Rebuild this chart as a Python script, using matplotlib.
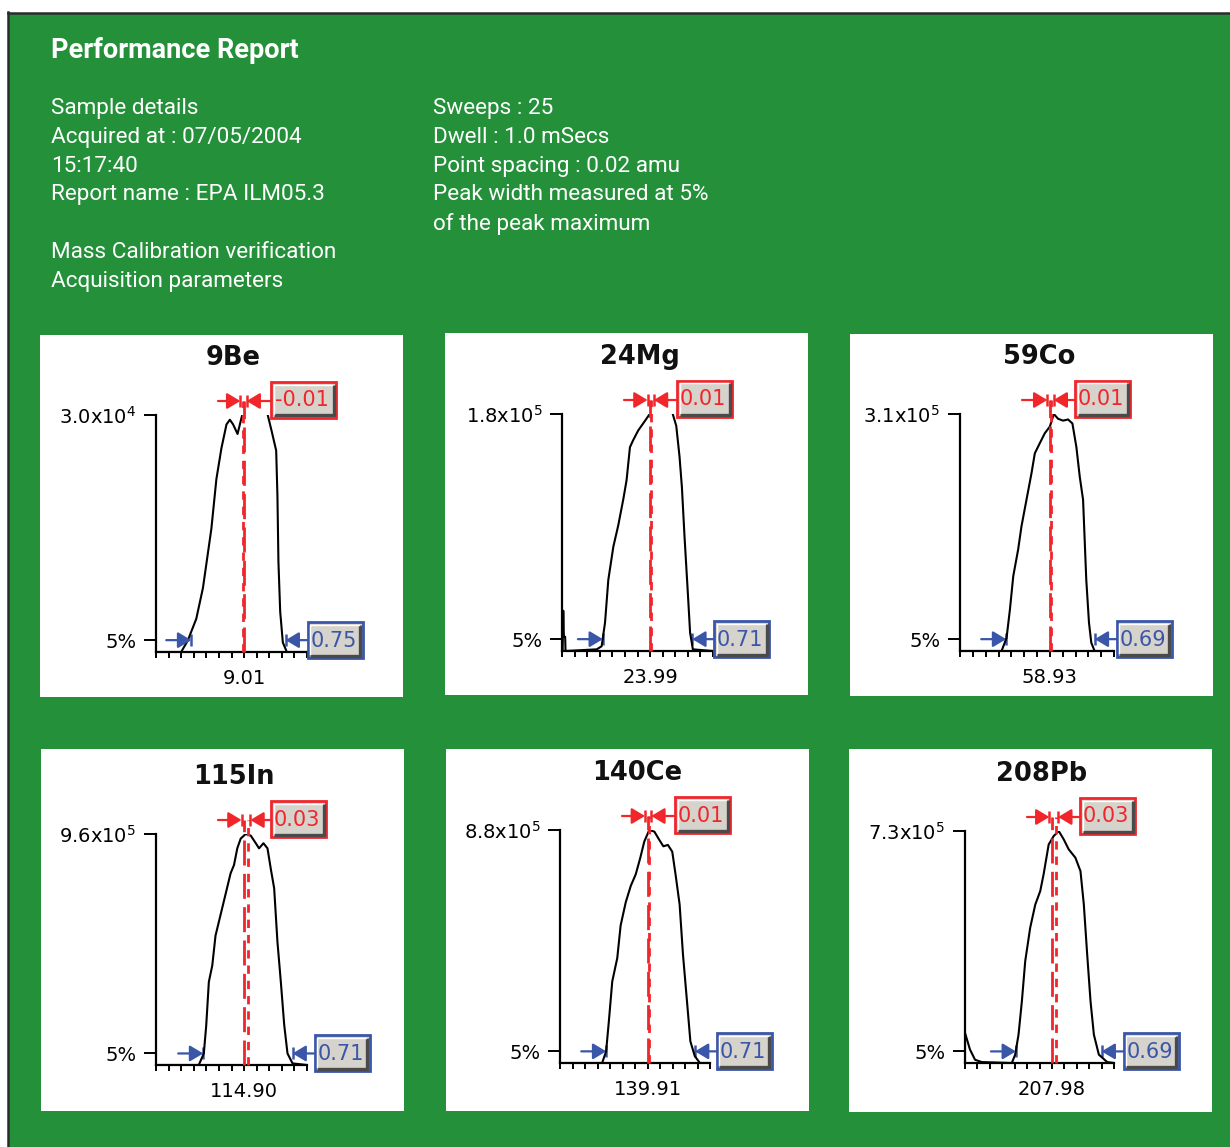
import numpy as np
import matplotlib
matplotlib.use("Agg")
import matplotlib.pyplot as plt
from matplotlib.patches import Rectangle
from matplotlib.lines import Line2D

# ---------------------------------------------------------------- data
ISOTOPES = ["9Be", "24Mg", "59Co", "115In", "140Ce", "208Pb"]
NOMINAL_MASS = [9.01, 23.99, 58.93, 114.90, 139.91, 207.98]
Y_MAX = [3.0e4, 1.8e5, 3.1e5, 9.6e5, 8.8e5, 7.3e5]
Y_MAX_MANTISSA = ["3.0", "1.8", "3.1", "9.6", "8.8", "7.3"]
Y_MAX_EXPONENT = [4, 5, 5, 5, 5, 5]
MASS_OFFSET = [-0.01, 0.01, 0.01, 0.03, 0.01, 0.03]
PEAK_WIDTH = [0.75, 0.71, 0.69, 0.71, 0.71, 0.69]
# left 5% crossing, amu relative to nominal mass
LEFT_EDGE = [-0.42, -0.375, -0.34, -0.325, -0.33, -0.29]

# scan profiles: mass relative to nominal (amu) and intensity in % of axis maximum
be_off = [-0.70, -0.50, -0.447, -0.38, -0.327, -0.26, -0.22, -0.18, -0.14, -0.113, -0.087,
          -0.052, -0.015, 0.03, 0.09, 0.15, 0.188, 0.22, 0.255, 0.265, 0.273, 0.287,
          0.308, 0.34, 0.50]
be_pct = [0, 0, 4.9, 14, 27, 52, 73, 86, 96, 98, 96,
          92, 100, 105, 107, 106, 100, 93, 85, 66, 38, 17,
          4, 0, 0]

mg_off = [-0.70, -0.695, -0.69, -0.685, -0.675, -0.672, -0.424, -0.385, -0.358, -0.332,
          -0.292, -0.253, -0.213, -0.187, -0.16, -0.134, -0.095, -0.042, -0.003, 0.05,
          0.12, 0.18, 0.208, 0.234, 0.253, 0.274, 0.30, 0.318, 0.34, 0.50]
mg_pct = [0, 0, 17, 6, 6, 0, 0.7, 2, 12, 30,
          44, 53, 64, 72, 86, 89, 93, 97, 100, 105,
          106, 100, 95, 82, 69, 48, 24.5, 7.7, 0.7, 0]

co_off = [-0.70, -0.376, -0.337, -0.311, -0.285, -0.247, -0.221, -0.182, -0.143, -0.117,
          -0.078, -0.039, 0.0, 0.031, 0.064, 0.103, 0.142, 0.176, 0.207, 0.233, 0.259,
          0.284, 0.305, 0.323, 0.349, 0.50]
co_pct = [0, 0, 5.6, 17.5, 31.6, 42.8, 52.6, 63.8, 75, 83.4,
          87.7, 91.9, 94.7, 100, 98, 97.2, 97.7, 96, 86, 73.6, 63.8,
          30, 12, 3.5, 0, 0]

in_off = [-0.70, -0.36, -0.32, -0.301, -0.28, -0.253, -0.227, -0.187, -0.147, -0.107,
          -0.08, -0.054, -0.027, 0.013, 0.053, 0.093, 0.119, 0.154, 0.186, 0.212,
          0.239, 0.265, 0.292, 0.319, 0.345, 0.385, 0.50]
in_pct = [0, 0, 5, 17, 36, 43, 56, 65, 74, 83,
          86.6, 93.8, 98, 100, 99.3, 96, 93.8, 96, 93.8, 85,
          76.5, 53.4, 36, 17.3, 5, 0.7, 0]

ce_off = [-0.70, -0.363, -0.331, -0.309, -0.282, -0.242, -0.215, -0.174, -0.134, -0.094,
          -0.058, -0.026, 0.014, 0.055, 0.095, 0.127, 0.163, 0.198, 0.225, 0.257,
          0.284, 0.316, 0.343, 0.378, 0.419, 0.50]
ce_pct = [0, 0, 5, 18, 35, 45, 59, 69, 76, 81,
          88, 95, 100, 99.3, 95.7, 93, 93.6, 90.7, 80.7, 68,
          46.4, 26.4, 9.3, 3, 0, 0]

pb_off = [-0.70, -0.70, -0.66, -0.619, -0.565, -0.323, -0.296, -0.269, -0.242, -0.215,
          -0.175, -0.134, -0.094, -0.067, -0.026, 0.014, 0.055, 0.095, 0.135, 0.189,
          0.23, 0.257, 0.284, 0.311, 0.338, 0.378, 0.445, 0.50]
pb_pct = [0, 13, 5.8, 1.4, 0.4, 0, 3.6, 12.2, 26.6, 43.9,
          58.3, 68.3, 74.1, 81.3, 94.2, 97.8, 100, 96.4, 92.1, 88.5,
          82.7, 68.3, 46.8, 26.6, 12.2, 3.6, 0.4, 0]

PROFILE_OFFSETS = [be_off, mg_off, co_off, in_off, ce_off, pb_off]
PROFILE_PCT = [be_pct, mg_pct, co_pct, in_pct, ce_pct, pb_pct]

HEADER_TITLE = "Performance Report"
HEADER_LEFT = ["Sample details", "Acquired at : 07/05/2004", "15:17:40",
               "Report name : EPA ILM05.3", "", "Mass Calibration verification",
               "Acquisition parameters"]
HEADER_RIGHT = ["Sweeps : 25", "Dwell : 1.0 mSecs", "Point spacing : 0.02 amu",
                "Peak width measured at 5%", "of the peak maximum"]

# ---------------------------------------------------------------- layout (pixels)
W, H, DPI = 1230, 1147, 100
GREEN = "#24913a"
RED = "#f0262b"
BLUE = "#3a56a8"
BTN_FACE = "#d6d3cc"

# white card boxes (left, top, right, bottom)
CARDS = [(40, 335, 403, 697), (445, 333, 808, 695), (850, 334, 1213, 696),
         (41, 749, 404, 1111), (446, 749, 809, 1111), (849, 749, 1212, 1112)]
# plot frame: y-axis x, axis right end, top of y-axis, baseline
FRAMES = [(156, 307, 415, 652), (562, 713, 414, 651), (960, 1114, 414, 651),
          (156, 307, 834, 1065), (560, 710, 830, 1063), (965, 1114, 831, 1063)]

HEAD_FONT = ["Roboto", "DejaVu Sans"]
TICK_SIZE = 14

fig = plt.figure(figsize=(W / DPI, H / DPI), dpi=DPI, facecolor="white")


def fx(x):
    return x / W


def fy(y):
    return 1 - y / H


def frect(x0, y0, x1, y1, **kw):
    fig.add_artist(Rectangle((fx(x0), fy(y1)), (x1 - x0) / W, (y1 - y0) / H,
                             transform=fig.transFigure, **kw))


def fline(xs, ys, **kw):
    fig.add_artist(Line2D([fx(v) for v in xs], [fy(v) for v in ys],
                          transform=fig.transFigure, **kw))


# green report background with dark frame
frect(9, 13, W + 2, H + 2, facecolor=GREEN, edgecolor="none", zorder=0.1)
fline([8, W], [12.5, 12.5], color="#2b2b2b", lw=1.8, zorder=0.2)
fline([8, 8], [12, H], color="#2b2b2b", lw=1.8, zorder=0.2)

# header text
fig.text(fx(51), fy(51), HEADER_TITLE, color="white", fontsize=19.5, fontweight="bold",
         family=HEAD_FONT, va="center", ha="left")
for i, line in enumerate(HEADER_LEFT):
    if line:
        fig.text(fx(51), fy(108.5 + 28.8 * i), line, color="white", fontsize=16.2,
                 family=HEAD_FONT, va="center", ha="left")
for i, line in enumerate(HEADER_RIGHT):
    fig.text(fx(433), fy(108.5 + 28.8 * i), line, color="white", fontsize=16.2,
             family=HEAD_FONT, va="center", ha="left")


def value_button(xl, yc, w, h, edge, text):
    yt = yc - h / 2
    frect(xl, yt, xl + w, yt + h, facecolor=BTN_FACE, edgecolor=edge, lw=2.0, zorder=5)
    fline([xl + 2.5, xl + w - 2.5, xl + w - 2.5], [yt + h - 2.5, yt + h - 2.5, yt + 2.5],
          color="#4a4a4a", lw=2.4, zorder=6, solid_capstyle="butt")
    fline([xl + 2.5, xl + 2.5, xl + w - 4], [yt + h - 4, yt + 2.5, yt + 2.5],
          color="white", lw=1.0, zorder=6)
    fig.text(fx(xl + w / 2 - 1.5), fy(yc + 0.5), text, color=edge, ha="center",
             va="center", fontsize=15, zorder=7)


def arrow_to(ax, start, tip, y, color):
    ax.annotate("", xy=(tip, y), xytext=(start, y), annotation_clip=False,
                arrowprops=dict(arrowstyle="-|>,head_length=0.5,head_width=0.3",
                                color=color, lw=1.6, mutation_scale=16,
                                shrinkA=0, shrinkB=0))
    ax.plot([tip], [y], marker="|", ms=8, mew=1.8, color=color, clip_on=False)


for k in range(6):
    cx0, cy0, cx1, cy1 = CARDS[k]
    frect(cx0, cy0, cx1, cy1, facecolor="white", edgecolor="none", zorder=0.5)

    x0, x1, ytop, ybase = FRAMES[k]
    c = NOMINAL_MASS[k]
    ymax = Y_MAX[k]
    ax = fig.add_axes([fx(x0), fy(ybase), (x1 - x0) / W, (ybase - ytop) / H])
    ax.set_zorder(2)
    ax.set_facecolor("none")
    ax.set_xlim(c - 0.7, c + 0.5)
    ax.set_ylim(0, ymax)
    for s in ("top", "right"):
        ax.spines[s].set_visible(False)
    for s in ("left", "bottom"):
        ax.spines[s].set_linewidth(1.6)
        ax.spines[s].set_color("black")

    # profile
    xs = [c + v for v in PROFILE_OFFSETS[k]]
    ys = [ymax * p / 100.0 for p in PROFILE_PCT[k]]
    ax.plot(xs, ys, color="black", lw=1.5, zorder=3)

    # ticks
    xt = [c + 0.1 * i for i in range(-7, 6)]
    ax.set_xticks(xt)
    ax.set_xticklabels([f"{c:.2f}" if i == 0 else "" for i in range(-7, 6)])
    ax.tick_params(axis="x", direction="out", length=4, width=1.4, pad=8,
                   labelsize=TICK_SIZE)
    ax.set_yticks([0.05 * ymax, ymax])
    ax.set_yticklabels(["5%", f"{Y_MAX_MANTISSA[k]}x10$^{{{Y_MAX_EXPONENT[k]}}}$"])
    ax.tick_params(axis="y", direction="out", length=9, width=1.4, pad=5,
                   labelsize=TICK_SIZE)

    ppa = (x1 - x0) / 1.2          # pixels per amu
    arrow_y = ymax * (1 + 14 / (ybase - ytop))

    # mass-position markers
    off = MASS_OFFSET[k]
    ax.plot([c, c], [0, arrow_y], color=RED, lw=2.0, dashes=(9, 3), clip_on=False, zorder=4)
    ax.plot([c + off, c + off], [0, arrow_y], color=RED, lw=2.0, dashes=(3, 2.5),
            clip_on=False, zorder=4)
    lo, hi = min(c, c + off), max(c, c + off)
    gap = 2.5 / ppa
    start_left = c - 0.7 + 62 / ppa
    red_box_x = x0 + 115
    start_right = c - 0.7 + (red_box_x - x0) / ppa
    arrow_to(ax, start_left, lo - gap, arrow_y, RED)
    arrow_to(ax, start_right, hi + gap, arrow_y, RED)
    off_txt = f"{off:.2f}"
    value_button(red_box_x, ytop - 15, 10 * len(off_txt) + 15, 36, RED, off_txt)

    # peak width markers at 5 %
    y5 = 0.05 * ymax
    L = c + LEFT_EDGE[k]
    R = L + PEAK_WIDTH[k]
    arrow_to(ax, L - 25 / ppa, L, y5, BLUE)
    arrow_to(ax, R + 22 / ppa, R, y5, BLUE)
    blue_x = x0 + (R - (c - 0.7)) * ppa + 22
    y5_px = ybase - 0.05 * (ybase - ytop)
    value_button(blue_x, y5_px, 55, 36, BLUE, f"{PEAK_WIDTH[k]:.2f}")

    # isotope title
    fig.text(fx((x0 + x1) / 2 + 2), fy(ytop - 57), ISOTOPES[k], ha="center", va="center",
             fontsize=18.5, fontweight="bold", color="#111111")

fig.savefig("out.png", dpi=DPI, facecolor="white")
